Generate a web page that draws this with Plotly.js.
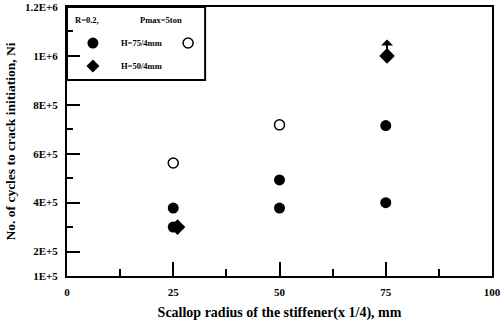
<!DOCTYPE html>
<html>
<head>
<meta charset="utf-8">
<script src="https://cdn.plot.ly/plotly-3.0.1.min.js"></script>
<style>
html,body{margin:0;padding:0;background:#fff;}
#chart{width:503px;height:325px;}
</style>
</head>
<body>
<div id="chart"></div>
<script>
// Data (scallop radius, mm; cycles to crack initiation)
var filledX = [25, 25, 50, 50, 75, 75];
var filledY = [3.78e5, 3.0e5, 4.93e5, 3.78e5, 7.15e5, 4.0e5];
var openX = [25, 50];
var openY = [5.62e5, 7.18e5];
var diamondX = [26, 75.3];
var diamondY = [3.0e5, 1.0e6];
var runoutX = [75.3];
var runoutY = [1.0e6];

var yTickVals = [1e5, 2e5, 4e5, 6e5, 8e5, 1e6, 1.2e6];
var yTickText = ['1E+5', '2E+5', '4E+5', '6E+5', '8E+5', '1E+6', '1.2E+6'];
var yMinorVals = [3e5, 5e5, 7e5, 9e5, 1.1e6];
var xTickVals = [0, 25, 50, 75, 100];
var xTickText = ['0', '25', '50', '75', '100'];
var xMinorVals = [12.5, 37.5, 62.5, 87.5];

var serif = 'Liberation Serif, Times New Roman, serif';

var traces = [
  {x: filledX, y: filledY, type: 'scatter', mode: 'markers', cliponaxis: false,
   marker: {symbol: 'circle', size: 11, color: '#000'}},
  {x: openX, y: openY, type: 'scatter', mode: 'markers', cliponaxis: false,
   marker: {symbol: 'circle-open', size: 10, color: '#000', line: {width: 1.5, color: '#000'}}},
  {x: diamondX, y: diamondY, type: 'scatter', mode: 'markers', cliponaxis: false,
   marker: {symbol: 'diamond', size: 12, color: '#000'}}
];

var annotations = runoutX.map(function (v, i) {
  return {x: v, y: runoutY[i], xref: 'x', yref: 'y', text: '', showarrow: true,
    ax: 0, ay: -18, arrowside: 'start', arrowhead: 2, arrowsize: 0.9, arrowwidth: 2,
    arrowcolor: '#000', standoff: 6};
});

function lab(t, x, y) {
  return {text: '<b>' + t + '</b>', xref: 'paper', yref: 'paper', x: x, y: y,
    xanchor: 'left', yanchor: 'middle', showarrow: false,
    font: {family: serif, size: 8.5, color: '#000'}};
}
annotations.push(lab('R=0.2,', 0.014, 0.952));
annotations.push(lab('Pmax=5ton', 0.166, 0.952));
annotations.push(lab('H=75/4mm', 0.122, 0.866));
annotations.push(lab('H=50/4mm', 0.122, 0.781));

var shapes = [
  {type: 'rect', xref: 'paper', yref: 'paper', x0: 0, x1: 0.325, y0: 0.729, y1: 1,
   line: {color: '#000', width: 2}, fillcolor: 'rgba(0,0,0,0)'},
  {type: 'circle', xref: 'paper', yref: 'paper', xsizemode: 'pixel', ysizemode: 'pixel',
   xanchor: 0.061, yanchor: 0.866, x0: -5.5, x1: 5.5, y0: -5.5, y1: 5.5,
   fillcolor: '#000', line: {width: 0}},
  {type: 'circle', xref: 'paper', yref: 'paper', xsizemode: 'pixel', ysizemode: 'pixel',
   xanchor: 0.285, yanchor: 0.866, x0: -5, x1: 5, y0: -5, y1: 5,
   fillcolor: 'rgba(0,0,0,0)', line: {width: 1.5, color: '#000'}},
  {type: 'path', xref: 'paper', yref: 'paper', xsizemode: 'pixel', ysizemode: 'pixel',
   xanchor: 0.061, yanchor: 0.781, path: 'M -6.5 0 L 0 6.5 L 6.5 0 L 0 -6.5 Z',
   fillcolor: '#000', line: {width: 0}}
];

var layout = {
  width: 503, height: 325,
  margin: {l: 67, r: 11, t: 7, b: 49},
  paper_bgcolor: '#fff', plot_bgcolor: '#fff',
  showlegend: false,
  font: {family: serif, color: '#000'},
  xaxis: {
    range: [0, 100], showgrid: false, zeroline: false,
    showline: true, linecolor: '#000', linewidth: 2, mirror: true,
    tickmode: 'array', tickvals: xTickVals, ticktext: xTickText,
    ticks: 'inside', ticklen: 14, tickwidth: 2, tickcolor: '#000',
    ticklabelstandoff: 5,
    minor: {tickmode: 'array', tickvals: xMinorVals, ticks: 'inside', ticklen: 7, tickwidth: 2, tickcolor: '#000', showgrid: false},
    tickfont: {family: serif, size: 11, color: '#000', weight: 'bold'},
    title: {text: '<b>Scallop radius of the stiffener(x 1/4), mm</b>', standoff: 10,
      font: {family: serif, size: 14, color: '#000'}}
  },
  yaxis: {
    range: [1e5, 1.2e6], showgrid: false, zeroline: false,
    showline: true, linecolor: '#000', linewidth: 2, mirror: true,
    tickmode: 'array', tickvals: yTickVals, ticktext: yTickText,
    ticks: 'inside', ticklen: 13, tickwidth: 2, tickcolor: '#000',
    ticklabelstandoff: 5,
    minor: {tickmode: 'array', tickvals: yMinorVals, ticks: 'inside', ticklen: 6, tickwidth: 2, tickcolor: '#000', showgrid: false},
    tickfont: {family: serif, size: 11, color: '#000', weight: 'bold'},
    title: {text: '<b>No. of cycles to crack initiation, Ni</b>', standoff: 6,
      font: {family: serif, size: 13.5, color: '#000'}}
  },
  annotations: annotations,
  shapes: shapes
};

Plotly.newPlot('chart', traces, layout, {displayModeBar: false, staticPlot: true});
</script>
</body>
</html>
